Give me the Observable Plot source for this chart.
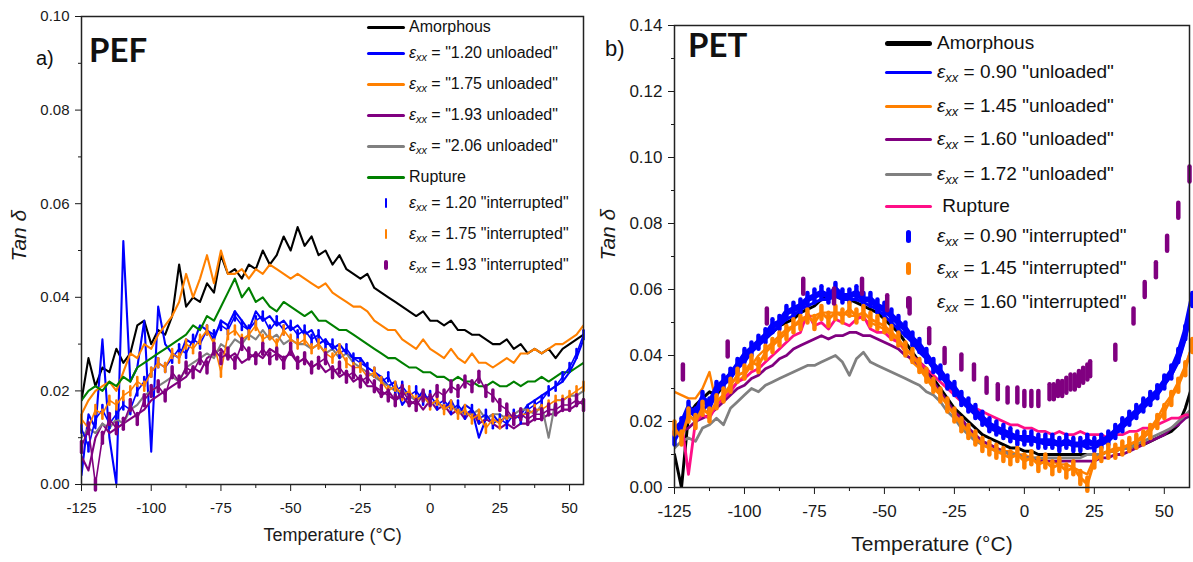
<!DOCTYPE html>
<html><head><meta charset="utf-8">
<script src="https://cdn.jsdelivr.net/npm/d3@7"></script>
<script src="https://cdn.jsdelivr.net/npm/@observablehq/plot@0.6"></script>
<style>
body{margin:0;background:#fff;}
#wrap{position:relative;width:1193px;height:562px;overflow:hidden;font-family:"Liberation Sans",Arial,sans-serif;color:#111;}
.abs{position:absolute;}
.row{position:absolute;height:22px;line-height:22px;white-space:nowrap;}
.row i{font-style:italic;}
.row sub{font-size:0.68em;vertical-align:-0.3em;font-style:italic;line-height:0;}
.tag{position:absolute;font-family:Lato,"Open Sans",sans-serif;font-weight:700;font-size:33px;line-height:1;}
.pl{position:absolute;font-size:20px;line-height:1;}
</style></head>
<body>
<div id="wrap"></div>
<script>
// ---------- DATA ----------
const tempsA = [-125,-122.5,-120,-117.5,-115,-112.5,-110,-107.5,-105,-102.5,-100,-97.5,-95,-92.5,-90,-87.5,-85,-82.5,-80,-77.5,-75,-72.5,-70,-67.5,-65,-62.5,-60,-57.5,-55,-52.5,-50,-47.5,-45,-42.5,-40,-37.5,-35,-32.5,-30,-27.5,-25,-22.5,-20,-17.5,-15,-12.5,-10,-7.5,-5,-2.5,0,2.5,5,7.5,10,12.5,15,17.5,20,22.5,25,27.5,30,32.5,35,37.5,40,42.5,45,47.5,50,52.5,55];
const amorphA = [0.018,0.027,0.021,0.025, 0.024,0.029,0.026,0.028, 0.034,0.035,0.030,0.033, 0.032,0.036,0.047,0.038, 0.040,0.039,0.043,0.041, 0.049,0.045,0.046,0.044, 0.047,0.046,0.050,0.047, 0.049,0.053,0.050,0.055, 0.051,0.053,0.049,0.050, 0.047,0.049,0.046,0.045, 0.044,0.045,0.042,0.041, 0.040,0.039,0.038,0.037, 0.036,0.037,0.035,0.035, 0.034,0.035,0.033,0.033, 0.032,0.032,0.031,0.030, 0.030,0.031,0.029,0.030, 0.028,0.029,0.028,0.029, 0.027,0.029,0.030,0.031, 0.032];
const blueA = [0.002,0.015,0.012,0.031, 0.010,0.000,0.052,0.022, 0.025,0.035,0.007,0.038, 0.030,0.028,0.027,0.031, 0.030,0.034,0.033,0.031, 0.035,0.034,0.037,0.035, 0.033,0.037,0.035,0.036, 0.034,0.035,0.033,0.034, 0.032,0.033,0.030,0.031, 0.029,0.030,0.028,0.027, 0.027,0.025,0.024,0.023, 0.021,0.022,0.017,0.019, 0.018,0.020,0.017,0.018, 0.016,0.018,0.015,0.017, 0.016,0.010,0.014,0.015, 0.013,0.015,0.014,0.015, 0.017,0.018,0.019,0.020, 0.021,0.022,0.024,0.027, 0.031];
const orangeA = [0.015,0.018,0.020,0.021, 0.022,0.020,0.024,0.028, 0.027,0.030,0.029,0.032, 0.034,0.036,0.039,0.045, 0.040,0.044,0.049,0.043, 0.050,0.045,0.045,0.046, 0.044,0.046,0.045,0.047, 0.046,0.045,0.044,0.045, 0.044,0.043,0.042,0.043, 0.041,0.040,0.039,0.038, 0.038,0.037,0.035,0.034, 0.033,0.033,0.031,0.030, 0.029,0.031,0.029,0.028, 0.027,0.029,0.027,0.026, 0.028,0.026,0.026,0.025, 0.026,0.027,0.026,0.028, 0.028,0.029,0.028,0.029, 0.030,0.030,0.031,0.032, 0.034];
const purpleA = [0.006,0.003,0.010,0.013, 0.011,0.012,0.013,0.014, 0.015,0.016,0.018,0.019, 0.020,0.021,0.022,0.023, 0.025,0.024,0.027,0.028, 0.029,0.027,0.028,0.026, 0.027,0.028,0.027,0.029, 0.028,0.027,0.028,0.026, 0.027,0.025,0.026,0.024, 0.025,0.023,0.024,0.022, 0.023,0.021,0.021,0.019, 0.020,0.018,0.019,0.017, 0.018,0.016,0.018,0.016, 0.017,0.015,0.016,0.014, 0.016,0.013,0.014,0.013, 0.012,0.013,0.012,0.013, 0.013,0.014,0.014,0.015, 0.015,0.016,0.016,0.017, 0.018];
const grayA = [0.010,0.012,0.011,0.013, 0.012,0.014,0.013,0.016, 0.017,0.019,0.020,0.021, 0.022,0.023,0.022,0.025, 0.026,0.027,0.028,0.027, 0.030,0.029,0.031,0.030, 0.032,0.031,0.033,0.031, 0.032,0.030,0.031,0.030, 0.030,0.029,0.030,0.028, 0.029,0.027,0.028,0.026, 0.025,0.024,0.023,0.022, 0.021,0.020,0.020,0.019, 0.018,0.019,0.017,0.018, 0.016,0.017,0.016,0.015, 0.015,0.016,0.014,0.015, 0.015,0.014,0.015,0.016, 0.016,0.015,0.017,0.010, 0.018,0.018,0.019,0.019, 0.020];
const greenA = [0.018,0.020,0.021,0.020, 0.022,0.021,0.023,0.022, 0.025,0.026,0.027,0.028, 0.029,0.030,0.031,0.032, 0.034,0.033,0.036,0.035, 0.038,0.041,0.044,0.040, 0.042,0.039,0.040,0.038, 0.037,0.039,0.038,0.037, 0.036,0.037,0.035,0.035, 0.034,0.033,0.033,0.032, 0.031,0.030,0.029,0.028, 0.027,0.027,0.026,0.025, 0.025,0.024,0.024,0.023, 0.023,0.022,0.023,0.022, 0.022,0.021,0.021,0.022, 0.021,0.021,0.022,0.021, 0.022,0.022,0.023,0.022, 0.023,0.024,0.024,0.025, 0.026];
const blueIntA = [0.012,0.008,0.014,0.016, 0.013,0.015,0.017,0.016, 0.020,0.022,0.024,0.026, 0.025,0.027,0.029,0.028, 0.031,0.030,0.033,0.032, 0.034,0.033,0.036,0.034, 0.033,0.035,0.036,0.033, 0.035,0.033,0.034,0.032, 0.033,0.031,0.032,0.030, 0.030,0.028,0.029,0.027, 0.026,0.025,0.024,0.022, 0.023,0.020,0.021,0.019, 0.020,0.018,0.019,0.017, 0.018,0.016,0.017,0.015, 0.016,0.014,0.015,0.013, 0.014,0.013,0.015,0.014, 0.016,0.017,0.018,0.020, 0.021,0.023,0.025,0.028, 0.032];
const orangeIntA = [0.014,0.012,0.016,0.015, 0.018,0.017,0.019,0.020, 0.022,0.021,0.024,0.026, 0.025,0.028,0.027,0.030, 0.029,0.031,0.033,0.030, 0.024,0.032,0.033,0.031, 0.032,0.034,0.031,0.032, 0.030,0.033,0.031,0.030, 0.031,0.029,0.030,0.028, 0.027,0.029,0.026,0.025, 0.025,0.023,0.024,0.022, 0.020,0.021,0.019,0.020, 0.018,0.019,0.017,0.018, 0.016,0.017,0.015,0.016, 0.014,0.015,0.012,0.014, 0.013,0.015,0.014,0.015, 0.015,0.016,0.016,0.017, 0.018,0.018,0.019,0.020, 0.021];
const purpleIntA = [0.008,0.012,0.000,0.010, 0.014,0.012,0.013,0.017, 0.014,0.018,0.020,0.021, 0.019,0.024,0.022,0.025, 0.024,0.027,0.025,0.029, 0.027,0.028,0.026,0.030, 0.028,0.027,0.029,0.027, 0.028,0.026,0.029,0.026, 0.027,0.025,0.026,0.027, 0.024,0.025,0.023,0.024, 0.022,0.023,0.021,0.020, 0.019,0.018,0.020,0.018, 0.017,0.019,0.018,0.020, 0.019,0.021,0.020,0.022, 0.021,0.023,0.020,0.019, 0.017,0.016,0.014,0.015, 0.014,0.015,0.015,0.016, 0.016,0.017,0.017,0.018, 0.017];

const tempsB = [-125,-122.5,-120,-117.5,-115,-112.5,-110,-107.5,-105,-102.5,-100,-97.5,-95,-92.5,-90,-87.5,-85,-82.5,-80,-77.5,-75,-72.5,-70,-67.5,-65,-62.5,-60,-57.5,-55,-52.5,-50,-47.5,-45,-42.5,-40,-37.5,-35,-32.5,-30,-27.5,-25,-22.5,-20,-17.5,-15,-12.5,-10,-7.5,-5,-2.5,0,2.5,5,7.5,10,12.5,15,17.5,20,22.5,25,27.5,30,32.5,35,37.5,40,42.5,45,47.5,50,52.5,55,57.5,60];
const amorphB = [0.010,0.000,0.022,0.025, 0.027,0.029,0.028,0.031, 0.035,0.037,0.040,0.042, 0.044,0.045,0.047,0.049, 0.050,0.051,0.053,0.054, 0.055,0.057,0.058,0.058, 0.057,0.057,0.056,0.055, 0.054,0.053,0.051,0.049, 0.047,0.044,0.041,0.038, 0.036,0.033,0.030,0.027, 0.024,0.022,0.020,0.018, 0.016,0.015,0.014,0.013, 0.012,0.012,0.011,0.011, 0.010,0.010,0.010,0.010, 0.010,0.010,0.010,0.010, 0.010,0.010,0.011,0.011, 0.012,0.012,0.013,0.013, 0.014,0.015,0.016,0.017, 0.019,0.024,0.031];
const blueB = [0.018,0.020,0.022,0.024, 0.023,0.026,0.029,0.031, 0.033,0.036,0.038,0.041, 0.043,0.045,0.047,0.049, 0.051,0.052,0.054,0.055, 0.056,0.057,0.057,0.058, 0.057,0.057,0.057,0.056, 0.055,0.054,0.052,0.050, 0.048,0.046,0.044,0.041, 0.039,0.036,0.034,0.031, 0.029,0.026,0.024,0.022, 0.020,0.018,0.017,0.016, 0.015,0.015,0.014,0.014, 0.014,0.013,0.013,0.013, 0.013,0.013,0.013,0.012, 0.012,0.013,0.014,0.016, 0.018,0.020,0.022,0.024, 0.026,0.028,0.031,0.034, 0.038,0.045,0.056];
const orangeB = [0.029,0.028,0.027,0.027, 0.030,0.035,0.025,0.028, 0.030,0.032,0.034,0.037, 0.040,0.042,0.044,0.046, 0.048,0.049,0.051,0.052, 0.052,0.053,0.053,0.053, 0.053,0.052,0.052,0.051, 0.050,0.049,0.048,0.046, 0.044,0.041,0.038,0.036, 0.033,0.030,0.028,0.025, 0.022,0.020,0.017,0.015, 0.014,0.013,0.012,0.011, 0.011,0.010,0.010,0.009, 0.009,0.008,0.008,0.007, 0.007,0.006,0.005,0.004, 0.009,0.010,0.011,0.012, 0.012,0.013,0.014,0.016, 0.018,0.021,0.025,0.028, 0.032,0.037,0.043];
const purpleB = [0.015,0.017,0.018,0.020, 0.021,0.022,0.024,0.026, 0.028,0.030,0.031,0.033, 0.034,0.036,0.037,0.039, 0.040,0.042,0.043,0.044, 0.045,0.046,0.045,0.046, 0.046,0.047,0.047,0.046, 0.046,0.045,0.044,0.043, 0.042,0.040,0.039,0.037, 0.035,0.032,0.029,0.026, 0.023,0.021,0.018,0.016, 0.014,0.013,0.012,0.011, 0.010,0.010,0.009,0.009, 0.008,0.008,0.008,0.008, 0.008,0.008,0.008,0.008, 0.008,0.009,0.009,0.010, 0.010,0.011,0.012,0.013, 0.014,0.015,0.016,0.018, 0.019,0.021,0.022];
const grayB = [0.012,0.014,0.015,0.014, 0.018,0.019,0.021,0.019, 0.024,0.026,0.028,0.030, 0.029,0.031,0.032,0.033, 0.034,0.035,0.036,0.037, 0.037,0.038,0.039,0.040, 0.038,0.034,0.039,0.041, 0.038,0.037,0.036,0.035, 0.034,0.033,0.032,0.031, 0.029,0.028,0.026,0.023, 0.021,0.018,0.016,0.014, 0.013,0.012,0.011,0.011, 0.010,0.010,0.009,0.009, 0.009,0.009,0.009,0.009, 0.009,0.009,0.009,0.010, 0.010,0.010,0.011,0.011, 0.012,0.012,0.013,0.014, 0.015,0.016,0.017,0.018, 0.020,0.022,0.024];
const pinkB = [0.015,0.020,0.004,0.020, 0.022,0.021,0.025,0.027, 0.029,0.032,0.033,0.035, 0.036,0.038,0.040,0.042, 0.044,0.046,0.047,0.053, 0.049,0.050,0.048,0.051, 0.050,0.049,0.051,0.052, 0.048,0.047,0.047,0.045, 0.044,0.042,0.040,0.038, 0.036,0.034,0.032,0.030, 0.028,0.026,0.025,0.024, 0.023,0.022,0.021,0.020, 0.019,0.019,0.018,0.018, 0.017,0.017,0.016,0.017, 0.016,0.016,0.017,0.016, 0.016,0.016,0.015,0.016, 0.016,0.017,0.017,0.018, 0.018,0.019,0.020,0.021, 0.021,0.022,0.022];
const blueIntB = [0.015,0.019,0.024,0.022, 0.027,0.025,0.030,0.032, 0.034,0.037,0.040,0.042, 0.044,0.046,0.049,0.050, 0.053,0.054,0.055,0.057, 0.058,0.059,0.058,0.060, 0.058,0.058,0.059,0.057, 0.057,0.055,0.054,0.052, 0.050,0.048,0.045,0.043, 0.040,0.037,0.035,0.032, 0.030,0.027,0.025,0.023, 0.021,0.019,0.018,0.017, 0.016,0.015,0.015,0.015, 0.014,0.014,0.014,0.013, 0.014,0.013,0.013,0.014, 0.013,0.014,0.015,0.017, 0.019,0.021,0.023,0.025, 0.027,0.029,0.032,0.035, 0.040,0.047,0.057];
const orangeIntB = [0.018,0.015,0.022,0.020, 0.024,0.022,0.026,0.028, 0.031,0.034,0.035,0.038, 0.037,0.041,0.043,0.045, 0.047,0.049,0.050,0.052, 0.050,0.053,0.051,0.053, 0.052,0.054,0.052,0.053, 0.051,0.050,0.049,0.047, 0.045,0.042,0.040,0.037, 0.034,0.031,0.028,0.025, 0.022,0.019,0.017,0.015, 0.013,0.012,0.011,0.010, 0.009,0.010,0.008,0.009, 0.007,0.008,0.006,0.007, 0.005,0.006,0.003,0.001, 0.008,0.010,0.011,0.011, 0.012,0.013,0.014,0.015, 0.017,0.020,0.023,0.027, 0.031,0.036,0.043];
const purpleIntBTemps = [-122,-106,-92,-79,-68,-58,-49,-41,-34,-28.5,-22.5,-18,-13.5,-9.5,-6,-2.5,0,2.5,5,9,10.5,12,13.5,15,16.5,18,19.5,21,22.5,23.5,32.5,39,43,47,51,55,59];
const purpleIntB = [0.035,0.042,0.052,0.061,0.058,0.061,0.056,0.055,0.046,0.040,0.038,0.035,0.031,0.029,0.028,0.028,0.027,0.027,0.027,0.029,0.029,0.030,0.030,0.031,0.032,0.032,0.033,0.034,0.035,0.036,0.041,0.052,0.060,0.066,0.074,0.084,0.095];

// ticks
const xTicks = [-125,-100,-75,-50,-25,0,25,50];
const xMinor = [-112.5,-87.5,-62.5,-37.5,-12.5,12.5,37.5];
const yTicksA = [0,0.02,0.04,0.06,0.08,0.10];
const yMinorA = [0.01,0.03,0.05,0.07,0.09];
const yTicksB = [0,0.02,0.04,0.06,0.08,0.10,0.12,0.14];
const yMinorB = [0.01,0.03,0.05,0.07,0.09,0.11,0.13];

// legend
const legNamesA = ['Amorphous','= "1.20 unloaded"','= "1.75 unloaded"','= "1.93 unloaded"','= "2.06 unloaded"','Rupture','= 1.20 "interrupted"','= 1.75 "interrupted"','= 1.93 "interrupted"'];
const legColorsA = ['#000000','#0000ff','#ff8000','#800080','#808080','#008000','#0000ff','#ff8000','#800080'];
const legKindsA = ['line','line','line','line','line','line','dash','dash','dash'];
const legNamesB = ['Amorphous','= 0.90 "unloaded"','= 1.45 "unloaded"','= 1.60 "unloaded"','= 1.72 "unloaded"',' Rupture','= 0.90 "interrupted"','= 1.45 "interrupted"','= 1.60 "interrupted"'];
const legColorsB = ['#000000','#0000ff','#ff8000','#800080','#808080','#ff0f87','#0000ff','#ff8000','#800080'];
const legKindsB = ['line','line','line','line','line','line','dash','dash','dash'];

// ---------- DRAW ----------
const C = {black:'#000000', blue:'#0000ff', orange:'#ff8000', purple:'#800080', gray:'#808080', green:'#008000', pink:'#ff0f87'};
const dashSym = {draw(ctx, size){ const r = Math.sqrt(size/Math.PI); ctx.moveTo(0,-r); ctx.lineTo(0,r); }};
const pts = (xs, ys) => xs.map((x,i) => ({x, y: ys[i]}));
const ln = (xs, ys, color, w) => Plot.line(pts(xs,ys), {x:"x", y:"y", stroke:color, strokeWidth:w, strokeLinejoin:"round", clip:true});
const ds = (xs, ys, color, r, w) => Plot.dot(pts(xs,ys), {x:"x", y:"y", symbol:dashSym, r, stroke:color, strokeWidth:w, fill:"none", strokeLinecap:"round"});

const baseStyle = (fs) => ({fontFamily:'"Liberation Sans", Arial, sans-serif', fontSize:fs+"px", color:"#1a1a1a", background:"transparent", overflow:"visible", maxWidth:"none"});

const plotA = Plot.plot({
  width:600, height:562, marginLeft:81, marginRight:17, marginTop:16, marginBottom:78,
  x:{domain:[-125,55]}, y:{domain:[0,0.10]},
  style: baseStyle(15),
  marks:[
    Plot.axisX({ticks:xTicks, tickSize:7, tickPadding:11, tickFormat:d=>String(d), label:null}),
    Plot.axisX({ticks:xMinor, tickSize:4, tickFormat:()=>"", label:null}),
    Plot.axisY({ticks:yTicksA, tickSize:6, tickPadding:6, tickFormat:d3.format(".2f"), label:null}),
    Plot.axisY({ticks:yMinorA, tickSize:3, tickFormat:()=>"", label:null}),
    ln(tempsA, amorphA, C.black, 2.1),
    ln(tempsA, blueA, C.blue, 2.1),
    ln(tempsA, orangeA, C.orange, 2.1),
    ln(tempsA, purpleA, C.purple, 2.1),
    ln(tempsA, grayA, C.gray, 2.1),
    ln(tempsA, greenA, C.green, 2.1),
    ln(tempsA, blueIntA, C.blue, 1.6), ds(tempsA, blueIntA, C.blue, 4.5, 2.6),
    ln(tempsA, orangeIntA, C.orange, 1.6), ds(tempsA, orangeIntA, C.orange, 4.5, 2.6),
    ln(tempsA, purpleIntA, C.purple, 1.6), ds(tempsA, purpleIntA, C.purple, 5.5, 3.5),
    Plot.frame({stroke:"#222", strokeWidth:1.5}),
    Plot.text(["Temperature (°C)"], {text:d=>d, frameAnchor:"bottom", dy:56, fontSize:18}),
    Plot.text(["Tan δ"], {text:d=>d, frameAnchor:"left", dx:-62, dy:11, rotate:-90, fontSize:21, fontStyle:"italic"})
  ]
});

const plotB = Plot.plot({
  width:603, height:562, marginLeft:84, marginRight:4, marginTop:25, marginBottom:75,
  x:{domain:[-125,59]}, y:{domain:[0,0.14]},
  style: baseStyle(17),
  marks:[
    Plot.axisX({ticks:xTicks, tickSize:7, tickPadding:10, tickFormat:d=>String(d), label:null}),
    Plot.axisX({ticks:xMinor, tickSize:4, tickFormat:()=>"", label:null}),
    Plot.axisY({ticks:yTicksB, tickSize:6, tickPadding:6, tickFormat:d3.format(".2f"), label:null}),
    Plot.axisY({ticks:yMinorB, tickSize:3, tickFormat:()=>"", label:null}),
    ln(tempsB, amorphB, C.black, 3),
    ln(tempsB, blueB, C.blue, 3),
    ln(tempsB, orangeB, C.orange, 2.4),
    ln(tempsB, purpleB, C.purple, 2.8),
    ln(tempsB, grayB, C.gray, 2.8),
    ln(tempsB, pinkB, C.pink, 2.8),
    ln(tempsB, blueIntB, C.blue, 6), ds(tempsB, blueIntB, C.blue, 6.5, 4.5),
    ln(tempsB, orangeIntB, C.orange, 3), ds(tempsB, orangeIntB, C.orange, 6.5, 4.5),
    ds(purpleIntBTemps, purpleIntB, C.purple, 7.5, 4.5),
    Plot.frame({stroke:"#222", strokeWidth:1.5}),
    Plot.text(["Temperature (°C)"], {text:d=>d, frameAnchor:"bottom", dy:63, fontSize:21}),
    Plot.text(["Tan δ"], {text:d=>d, frameAnchor:"left", dx:-66, dy:4, rotate:-90, fontSize:21, fontStyle:"italic"})
  ]
});

const wrap = document.getElementById("wrap");
function place(el, left, top){ el.style.position="absolute"; el.style.left=left+"px"; el.style.top=top+"px"; wrap.appendChild(el); return el; }
place(plotA, 0, 0);
place(plotB, 590, 0);

function addDiv(cls, html, left, top, css){ const d=document.createElement("div"); d.className=cls; d.innerHTML=html; if(css) d.style.cssText += css; return place(d, left, top); }

addDiv("pl", "a)", 36, 48, "font-size:20px");
addDiv("tag", "PEF", 89, 33);
addDiv("pl", "b)", 605, 38, "font-size:22px");
addDiv("tag", "PET", 688, 28);

function labelHTML(name){
  if (name.startsWith("=")) return '<i>ε</i><sub>xx</sub> ' + name;
  return name.replace(/^ /, "&nbsp;");
}
function legend(names, colors, kinds, centers, cfg){
  names.forEach((n,i)=>{
    const c = centers[i];
    if (kinds[i]==="line"){
      const h = (cfg.thick && i===0) ? 5 : 3;
      addDiv("abs","",cfg.swL, c-h/2, `width:${cfg.swW}px;height:${h}px;background:${colors[i]};border-radius:${h/2}px`);
    } else {
      const w = cfg.dw[i-6], h = cfg.dh;
      addDiv("abs","",cfg.dashX-w/2, c-h/2, `width:${w}px;height:${h}px;background:${colors[i]};border-radius:${w/2}px`);
    }
    addDiv("row", labelHTML(n), cfg.textL, c-11, `font-size:${cfg.fs}px`);
  });
}
legend(legNamesA, legColorsA, legKindsA, [27,53,84,115,146,177,203,234,265],
  {swL:367, swW:38, textL:409, fs:16, dashX:386, dw:[2.5,2.5,4], dh:10});
legend(legNamesB, legColorsB, legKindsB, [43,72,106,139,174,206,236,268,302],
  {swL:885, swW:47, textL:937, fs:19, dashX:908, dw:[5,5,5], dh:13, thick:true});
</script>
</body></html>
